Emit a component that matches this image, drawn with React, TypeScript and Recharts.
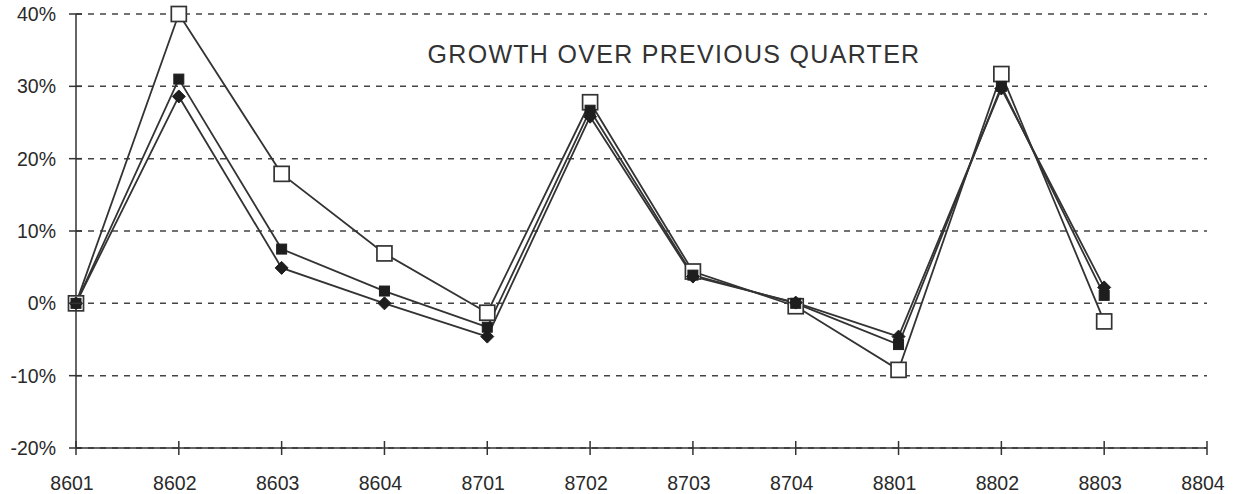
import React from "react";
import { LineChart, Line, XAxis, YAxis, CartesianGrid } from "recharts";

const quarters = ["8601", "8602", "8603", "8604", "8701", "8702", "8703", "8704", "8801", "8802", "8803", "8804"];
const openSquare = [0, 40, 17.9, 6.9, -1.3, 27.8, 4.4, -0.4, -9.2, 31.7, -2.5, null];
const filledSquare = [0, 31, 7.5, 1.7, -3.3, 26.7, 3.9, 0, -5.7, 30, 1.1, null];
const diamond = [0, 28.6, 4.9, 0, -4.6, 25.8, 3.7, 0.1, -4.6, 29.7, 2.2, null];
const yTicks = [-20, -10, 0, 10, 20, 30, 40];

const data = quarters.map((q, i) => ({
  q,
  a: openSquare[i],
  b: filledSquare[i],
  c: diamond[i],
}));

const INK = "#333";
const FONT = "'Liberation Sans', Arial, Helvetica, sans-serif";

const OpenSq = (p: any) => {
  if (p.cx == null || p.cy == null || p.value == null) return <g key={p.key} />;
  return <rect key={p.key} x={p.cx - 7.5} y={p.cy - 7.5} width={15} height={15} fill="#fff" stroke={INK} strokeWidth={1.7} />;
};
const FilledSq = (p: any) => {
  if (p.cx == null || p.cy == null || p.value == null) return <g key={p.key} />;
  return <rect key={p.key} x={p.cx - 5} y={p.cy - 5} width={10} height={10} fill="#1e1e1e" stroke="#1e1e1e" strokeWidth={1} />;
};
const Diamond = (p: any) => {
  if (p.cx == null || p.cy == null || p.value == null) return <g key={p.key} />;
  const r = 6.5;
  return (
    <path key={p.key} d={`M${p.cx},${p.cy - r}L${p.cx + r},${p.cy}L${p.cx},${p.cy + r}L${p.cx - r},${p.cy}Z`} fill="#1e1e1e" stroke="#1e1e1e" strokeWidth={1} />
  );
};

const XTick = (p: any) => {
  const { x, y, payload } = p;
  return (
    <g>
      <line x1={x} x2={x} y1={y - 7} y2={y + 7} stroke={INK} strokeWidth={1.5} />
      <text x={x - 4} y={y + 42} textAnchor="middle" fontSize={19.5} fontFamily={FONT} fill="#2a2a2a">
        {payload.value}
      </text>
    </g>
  );
};

const YTick = (p: any) => {
  const { x, y, payload } = p;
  return (
    <g>
      <line x1={x - 7} x2={x + 6} y1={y} y2={y} stroke={INK} strokeWidth={1.5} />
      <text x={x - 20} y={y + 7} textAnchor="end" fontSize={19.5} fontFamily={FONT} fill="#2a2a2a">
        {`${payload.value}%`}
      </text>
    </g>
  );
};

export default function App() {
  return (
    <div style={{ position: "absolute", left: 0, top: 0, width: 1244, height: 494, background: "#fff" }}>
      <LineChart width={1244} height={494} data={data} margin={{ top: 14, right: 37, bottom: 0, left: 0 }}>
        <CartesianGrid horizontal vertical={false} stroke="#444" strokeDasharray="6 6" strokeWidth={1.5} />
        <XAxis
          dataKey="q"
          height={46}
          stroke={INK}
          strokeWidth={1.5}
          tickLine={false}
          tickSize={0}
          tickMargin={0}
          tick={<XTick />}
          interval={0}
        />
        <YAxis
          width={76}
          domain={[-20, 40]}
          ticks={yTicks}
          stroke={INK}
          strokeWidth={1.5}
          tickLine={false}
          tickSize={0}
          tickMargin={0}
          tick={<YTick />}
          interval={0}
        />
        <text x={674} y={63} textAnchor="middle" fontSize={25} letterSpacing={1.3} fontFamily={FONT} fill="#333">
          GROWTH OVER PREVIOUS QUARTER
        </text>
        <Line dataKey="a" stroke={INK} strokeWidth={1.8} dot={OpenSq} isAnimationActive={false} />
        <Line dataKey="b" stroke={INK} strokeWidth={1.8} dot={FilledSq} isAnimationActive={false} />
        <Line dataKey="c" stroke={INK} strokeWidth={1.8} dot={Diamond} isAnimationActive={false} />
      </LineChart>
    </div>
  );
}
